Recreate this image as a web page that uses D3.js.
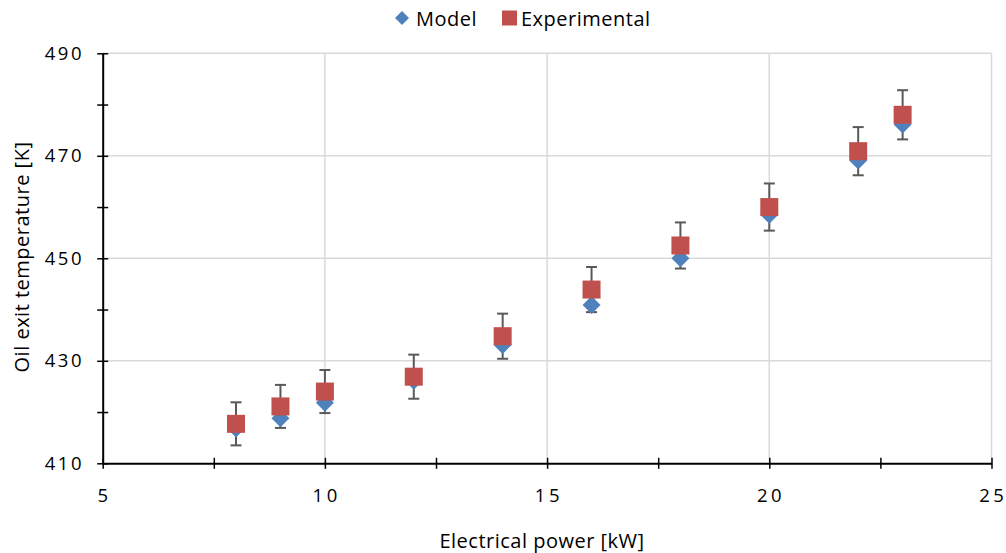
<!DOCTYPE html>
<html>
<head>
<meta charset="utf-8">
<script src="https://cdn.jsdelivr.net/npm/d3@7"></script>
<style>
  html, body { margin: 0; padding: 0; background: #fff; }
  svg { display: block; font-family: "Open Sans", Lato, sans-serif; }
</style>
</head>
<body>
<svg id="chart" width="1006" height="553"></svg>
<script>
// ---- data ----
const power = [8, 9, 10, 12, 14, 16, 18, 20, 22, 23];
const model = [416.8, 418.8, 421.8, 426.1, 433.1, 440.9, 450.0, 458.5, 469.1, 476.1];
const experimental = [417.7, 421.1, 424.0, 426.9, 434.8, 443.9, 452.5, 460.0, 470.9, 478.0];
const expError = [4.2, 4.2, 4.2, 4.3, 4.4, 4.4, 4.5, 4.6, 4.7, 4.8];
const xTicks = [5, 7.5, 10, 12.5, 15, 17.5, 20, 22.5, 25];
const xLabels = [5, 10, 15, 20, 25];
const yTicks = [410, 420, 430, 440, 450, 460, 470, 480, 490];
const yLabels = [410, 430, 450, 470, 490];
const seriesNames = ["Model", "Experimental"];
const colors = ["#4F81BD", "#C0504D"];

(function () {
const svg = d3.select("#chart");
const pL = 102.7, pR = 991.5, pT = 53.3, pB = 463.3;
const x = d3.scaleLinear().domain([5, 25]).range([pL, pR]);
const y = d3.scaleLinear().domain([410, 490]).range([pB, pT]);

// gridlines
svg.append("g").selectAll("line").data(xLabels.filter(d => d > 5)).join("line")
  .attr("x1", d => x(d)).attr("x2", d => x(d)).attr("y1", pT).attr("y2", pB)
  .attr("stroke", "#d9d9d9").attr("stroke-width", 1.5);
svg.append("g").selectAll("line").data(yLabels.filter(d => d > 410)).join("line")
  .attr("x1", pL).attr("x2", pR).attr("y1", d => y(d)).attr("y2", d => y(d))
  .attr("stroke", "#d9d9d9").attr("stroke-width", 1.5);

// axes
const xAxis = d3.axisBottom(x).tickValues(xTicks).tickSize(0).tickFormat(() => "");
const yAxis = d3.axisLeft(y).tickValues(yTicks).tickSize(0).tickFormat(() => "");
const gx = svg.append("g").attr("transform", `translate(0,${pB})`).call(xAxis);
const gy = svg.append("g").attr("transform", `translate(${pL},0)`).call(yAxis);
[gx, gy].forEach(g => g.select(".domain").attr("stroke", "#000").attr("stroke-width", 2));
gx.selectAll(".tick line").attr("y1", -5.5).attr("y2", 5.5).attr("stroke", "#000").attr("stroke-width", 1.5);
gy.selectAll(".tick line").attr("x1", -5.5).attr("x2", 5.5).attr("stroke", "#000").attr("stroke-width", 1.5);

// tick labels
svg.append("g").selectAll("text").data(xLabels).join("text")
  .attr("x", d => x(d) + 1.8).attr("y", 502)
  .attr("text-anchor", "middle").attr("font-size", 18.5).attr("letter-spacing", "3.5px")
  .attr("fill", "#000").text(d => d);
svg.append("g").selectAll("text").data(yLabels).join("text")
  .attr("x", 84).attr("y", d => y(d)).attr("dy", "0.36em")
  .attr("text-anchor", "end").attr("font-size", 18.5).attr("letter-spacing", "2.5px")
  .attr("fill", "#000").text(d => d);

// axis titles
svg.append("text").attr("x", 542).attr("y", 548).attr("text-anchor", "middle")
  .attr("font-size", 20).attr("letter-spacing", "0.5px").attr("fill", "#000").text("Electrical power [kW]");
svg.append("text").attr("transform", `translate(28.5,257) rotate(-90)`).attr("text-anchor", "middle")
  .attr("font-size", 20).attr("letter-spacing", "0.5px").attr("fill", "#000").text("Oil exit temperature [K]");

// error bars (experimental)
const eb = svg.append("g").attr("stroke", "#595959").attr("stroke-width", 2);
power.forEach((p, i) => {
  const cx = x(p), y1 = y(experimental[i] - expError[i]), y2 = y(experimental[i] + expError[i]);
  eb.append("line").attr("x1", cx).attr("x2", cx).attr("y1", y1).attr("y2", y2);
  eb.append("line").attr("x1", cx - 5.5).attr("x2", cx + 5.5).attr("y1", y1).attr("y2", y1);
  eb.append("line").attr("x1", cx - 5.5).attr("x2", cx + 5.5).attr("y1", y2).attr("y2", y2);
});

// model diamonds
const dpath = "M0,-9L9,0L0,9L-9,0Z";
svg.append("g").selectAll("path").data(power).join("path")
  .attr("d", dpath)
  .attr("transform", (d, i) => `translate(${x(d)},${y(model[i])})`)
  .attr("fill", colors[0]);

// experimental squares
svg.append("g").selectAll("rect").data(power).join("rect")
  .attr("x", d => x(d) - 9).attr("y", (d, i) => y(experimental[i]) - 9)
  .attr("width", 18).attr("height", 18)
  .attr("fill", colors[1]);

// legend
const lg = svg.append("g");
lg.append("path").attr("d", "M0,-7L7,0L0,7L-7,0Z").attr("transform", "translate(402,18)").attr("fill", colors[0]);
lg.append("text").attr("x", 416).attr("y", 25.5).attr("font-size", 20).attr("letter-spacing", "0.5px").attr("fill", "#000").text(seriesNames[0]);
lg.append("rect").attr("x", 502).attr("y", 10.5).attr("width", 15).attr("height", 15).attr("fill", colors[1]);
lg.append("text").attr("x", 521).attr("y", 25.5).attr("font-size", 20).attr("letter-spacing", "0.5px").attr("fill", "#000").text(seriesNames[1]);
})();
</script>
</body>
</html>
